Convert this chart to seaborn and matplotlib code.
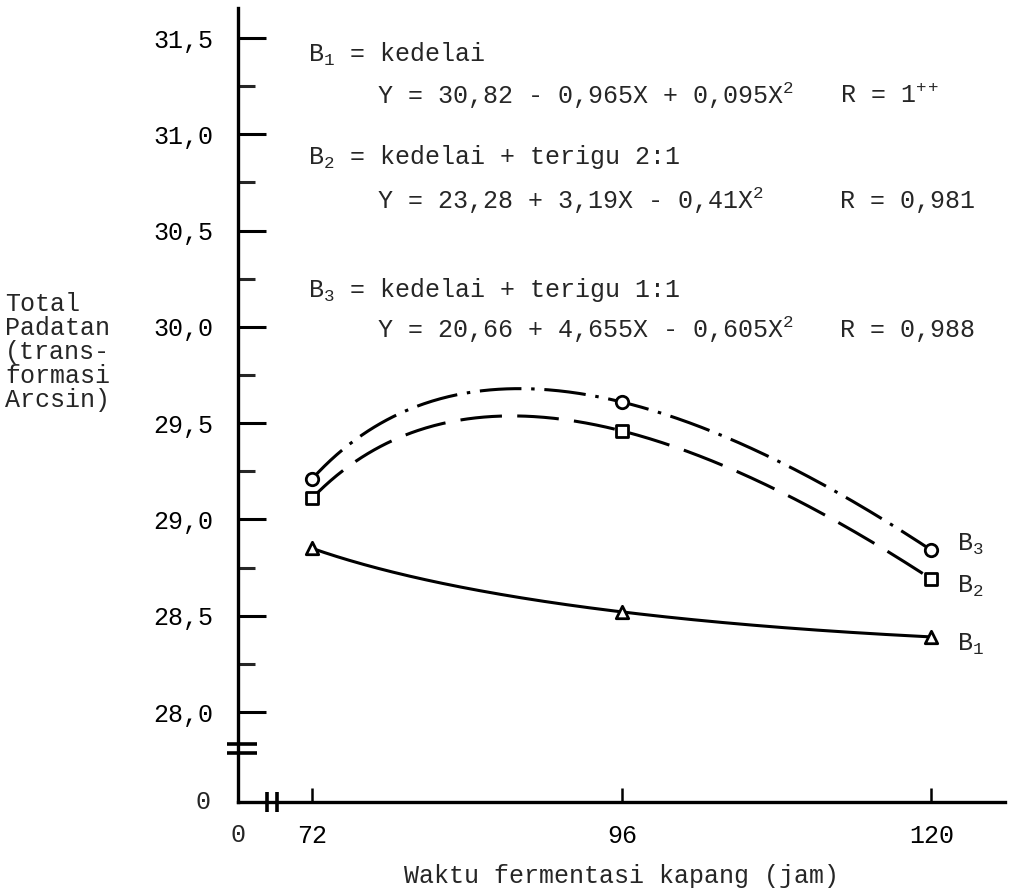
import numpy as np
import matplotlib
matplotlib.use("Agg")
import matplotlib.pyplot as plt
import seaborn as sns

# ---- data ----
hours = [72, 96, 120]
b1_values = [28.85, 28.52, 28.39]   # B1 = kedelai
b2_values = [29.11, 29.46, 28.69]   # B2 = kedelai + terigu 2:1
b3_values = [29.21, 29.61, 28.84]   # B3 = kedelai + terigu 1:1
y_major = [28.0, 28.5, 29.0, 29.5, 30.0, 30.5, 31.0, 31.5]
y_labels = ["28,0", "28,5", "29,0", "29,5", "30,0", "30,5", "31,0", "31,5"]
x_labels = ["72", "96", "120"]

sns.set_theme(style="white")
plt.rcParams["font.family"] = ["Liberation Mono", "DejaVu Sans Mono"]
plt.rcParams["mathtext.fontset"] = "custom"
plt.rcParams["mathtext.rm"] = "Liberation Mono"
plt.rcParams["mathtext.it"] = "Liberation Mono"
plt.rcParams["lines.scale_dashes"] = False

FS = 18
AX_BOTTOM_PX = 802
fig = plt.figure(figsize=(10.2, 8.9), dpi=100)
ax = fig.add_axes([238/1020, 1-AX_BOTTOM_PX/890, (1005-238)/1020, (AX_BOTTOM_PX-8)/890])

YMIN = 28.0 - (AX_BOTTOM_PX - 712) / 192.6
YMAX = 31.656
XMIN, XMAX = 66.26, 125.7
ax.set_ylim(YMIN, YMAX)
ax.set_xlim(XMIN, XMAX)

def fit_curve(vals):
    u = np.sqrt(np.array(hours, dtype=float) - 60)
    coef = np.polyfit(u, vals, 2)
    xs = np.linspace(hours[0], hours[-1], 300)
    return xs, np.polyval(coef, np.sqrt(xs - 60))

styles = [
    (b1_values, "^", "-"),
    (b2_values, "s", (0, (30, 11))),
    (b3_values, "o", (0, (30, 7, 2.5, 7))),
]
for vals, mk, ls in styles:
    xs, ys = fit_curve(vals)
    sns.lineplot(x=xs, y=ys, ax=ax, color="black", lw=2.2, linestyle=ls, zorder=2)
    sns.scatterplot(x=hours, y=vals, ax=ax, marker=mk, s=80, facecolor="white",
                    edgecolor="black", linewidth=2.0, zorder=3)

# spines
for s in ["top", "right"]:
    ax.spines[s].set_visible(False)
for s in ["left", "bottom"]:
    ax.spines[s].set_linewidth(2.4)
    ax.spines[s].set_color("black")

ax.set_yticks(y_major)
ax.set_yticklabels(y_labels, fontsize=FS)
ax.set_yticks(np.arange(28.25, 31.5, 0.5), minor=True)
ax.tick_params(axis="y", which="major", direction="in", left=True, length=20, width=2.2,
               pad=18, colors="black")
ax.tick_params(axis="y", which="minor", direction="in", left=True, length=12, width=2.2)
ax.set_xticks(hours)
ax.set_xticklabels(x_labels, fontsize=FS)
ax.tick_params(axis="x", which="major", direction="in", bottom=True, length=10, width=1.8,
               pad=16, colors="black")
ax.tick_params(axis="x", which="minor", bottom=False)

# zero labels at the broken origin
ax.text(-0.045, 0.0, "0", transform=ax.transAxes, ha="center", va="center", fontsize=FS)
ax.text(0.0, -0.042, "0", transform=ax.transAxes, ha="center", va="center", fontsize=FS)

# axis break marks
for yb in [27.835, 27.785]:
    ax.plot([-0.014, 0.025], [yb, yb], transform=ax.get_yaxis_transform(), color="black",
            lw=2.6, clip_on=False, solid_capstyle="butt")
for xb in [68.5, 69.3]:
    ax.plot([xb, xb], [-0.013, 0.013], transform=ax.get_xaxis_transform(), color="black",
            lw=2.6, clip_on=False, solid_capstyle="butt")

ax.set_xlabel("Waktu fermentasi kapang (jam)", fontsize=FS, labelpad=11)
ax.set_ylabel("")
fig.text(5/1020, 1-292/890, "Total\nPadatan\n(trans-\nformasi\nArcsin)", ha="left", va="top",
         fontsize=FS, linespacing=1.0)

# equations
eq = [
    (71.7, 31.417, "B$_{\\mathrm{1}}$ = kedelai"),
    (77.0, 31.200, "Y = 30,82 - 0,965X + 0,095X$^{\\mathrm{2}}$"),
    (112.9, 31.200, "R = 1$^{\\mathrm{++}}$"),
    (71.7, 30.880, "B$_{\\mathrm{2}}$ = kedelai + terigu 2:1"),
    (77.0, 30.655, "Y = 23,28 + 3,19X - 0,41X$^{\\mathrm{2}}$"),
    (112.9, 30.655, "R = 0,981"),
    (71.7, 30.190, "B$_{\\mathrm{3}}$ = kedelai + terigu 1:1"),
    (77.0, 29.985, "Y = 20,66 + 4,655X - 0,605X$^{\\mathrm{2}}$"),
    (112.9, 29.985, "R = 0,988"),
]
for x, y, t in eq:
    ax.text(x, y, t, ha="left", va="center", fontsize=FS)

# series labels
for y, t in [(28.87, "B$_{\\mathrm{3}}$"), (28.65, "B$_{\\mathrm{2}}$"), (28.35, "B$_{\\mathrm{1}}$")]:
    ax.text(122.0, y, t, ha="left", va="center", fontsize=FS)

fig.savefig("out.png", dpi=100)
